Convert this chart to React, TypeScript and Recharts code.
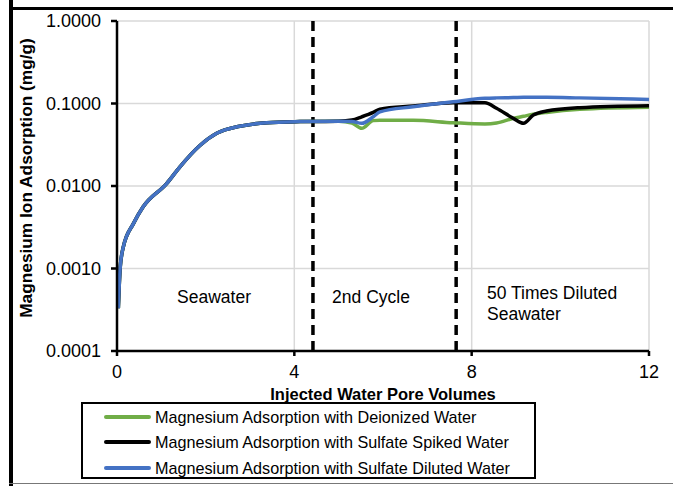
import { LineChart, Line, XAxis, YAxis, CartesianGrid, ReferenceLine, Label } from 'recharts';

// pore volumes injected
const porevolumes = [0.03, 0.07, 0.14, 0.37, 0.59, 1.12, 1.42, 1.87, 2.25, 2.77, 3.38, 4.13, 5.0, 5.3, 5.52, 5.78, 5.93, 6.68, 7.58, 8.3, 8.56, 8.94, 9.17, 9.39, 9.69, 10.44, 12.0];

// Mg adsorption (mg/g)
const deionized = [0.00033, 0.001, 0.0018, 0.0035, 0.0056, 0.0107, 0.0171, 0.031, 0.0435, 0.053, 0.0585, 0.0603, 0.061, 0.058, 0.05, 0.062, 0.0625, 0.0625, 0.0585, 0.0565, 0.058, 0.066, 0.07, 0.074, 0.078, 0.085, 0.09];
const sulfateSpiked = [0.00033, 0.001, 0.0018, 0.0035, 0.0056, 0.0107, 0.0171, 0.031, 0.0435, 0.053, 0.0585, 0.0603, 0.061, 0.063, 0.069, 0.078, 0.085, 0.093, 0.102, 0.102, 0.0875, 0.066, 0.0575, 0.0724, 0.081, 0.089, 0.094];
const sulfateDiluted = [0.00033, 0.001, 0.0018, 0.0035, 0.0056, 0.0107, 0.0171, 0.031, 0.0435, 0.053, 0.0585, 0.0603, 0.061, 0.0605, 0.0575, 0.069, 0.079, 0.0914, 0.105, 0.1156, 0.117, 0.118, 0.119, 0.119, 0.119, 0.117, 0.112];

const xTicks = [0, 4, 8, 12];
const yTicks = [0.0001, 0.001, 0.01, 0.1, 1];
const cycleBreaks = [4.42, 7.65];

const series = [
  { key: 'deionized', name: 'Magnesium Adsorption with Deionized Water', color: '#70ad47' },
  { key: 'spiked', name: 'Magnesium Adsorption with Sulfate Spiked Water', color: '#000000' },
  { key: 'diluted', name: 'Magnesium Adsorption with Sulfate Diluted Water', color: '#4472c4' },
];

const data = porevolumes.map((pv, i) => ({
  pv,
  deionized: deionized[i],
  spiked: sulfateSpiked[i],
  diluted: sulfateDiluted[i],
}));

const font = 'Arial, "Liberation Sans", sans-serif';

const LegendBox = () => (
  <div style={{ position: 'absolute', left: 81, top: 402, border: '2.5px solid #000', width: 455, height: 77, boxSizing: 'border-box', padding: '0 0 0 21px', fontFamily: font, background: '#fff' }}>
    {series.map((s) => (
      <div key={s.key} style={{ display: 'flex', alignItems: 'center', height: 25.5 }}>
        <div style={{ width: 47, height: 4, background: s.color, borderRadius: 2, marginRight: 4 }} />
        <span style={{ fontSize: 16.2, color: '#000', lineHeight: '18px' }}>{s.name}</span>
      </div>
    ))}
  </div>
);

export default function App() {
  return (
    <div style={{ position: 'absolute', left: 0, top: 0, width: 673, height: 486, background: '#fff', overflow: 'hidden' }}>
      <div style={{ position: 'absolute', left: 9, top: 0, width: 4, height: 486, background: '#000' }} />
      <div style={{ position: 'absolute', left: 9, top: 7, width: 664, height: 3, background: '#000' }} />
      <div style={{ position: 'absolute', left: 9, top: 483, width: 664, height: 1, background: '#777' }} />
      <LineChart width={673} height={486} data={data} margin={{ top: 21, right: 24, bottom: 0, left: 0 }} style={{ fontFamily: font, position: 'absolute', left: 0, top: 0 }}>
        <CartesianGrid stroke="#d9d9d9" strokeWidth={1.5} verticalPoints={[294.3, 471.7, 649]} />
        <XAxis
          dataKey="pv"
          type="number"
          domain={[0, 12]}
          ticks={xTicks}
          height={135}
          stroke="#000"
          strokeWidth={2.5}
          tickSize={5}
          tick={{ fill: '#000', fontSize: 18 }}
          tickMargin={9}
        >
          <Label value="Injected Water Pore Volumes" position="insideTop" offset={0} dy={37} style={{ fontWeight: 'bold', fontSize: 16.5, fill: '#000' }} />
        </XAxis>
        <YAxis
          scale="log"
          domain={[0.0001, 1]}
          ticks={yTicks}
          allowDataOverflow
          width={117}
          stroke="#000"
          strokeWidth={2.5}
          tickSize={6}
          tickMargin={10}
          tick={{ fill: '#000', fontSize: 18 }}
          tickFormatter={(v: number) => v.toFixed(4)}
        />
        <text x={26} y={178} transform="rotate(-90, 26, 178)" textAnchor="middle" dominantBaseline="central" fontWeight="bold" fontSize={17.3} fill="#000">
          Magnesium Ion Adsorption (mg/g)
        </text>
        {cycleBreaks.map((x) => (
          <ReferenceLine key={x} x={x} stroke="#000" strokeWidth={3.5} strokeDasharray="10 6" />
        ))}
        {series.map((s) => (
          <Line
            key={s.key}
            type="monotone"
            dataKey={s.key}
            name={s.name}
            stroke={s.color}
            strokeWidth={3.5}
            dot={false}
            isAnimationActive={false}
          />
        ))}
        <text x={214} y={303} textAnchor="middle" fontSize={17.5} fill="#000">Seawater</text>
        <text x={371} y={303} textAnchor="middle" fontSize={17.5} fill="#000">2nd Cycle</text>
        <text x={487} y={299} fontSize={17.5} fill="#000">50 Times Diluted</text>
        <text x={487} y={320} fontSize={17.5} fill="#000">Seawater</text>
      </LineChart>
      <LegendBox />
    </div>
  );
}
